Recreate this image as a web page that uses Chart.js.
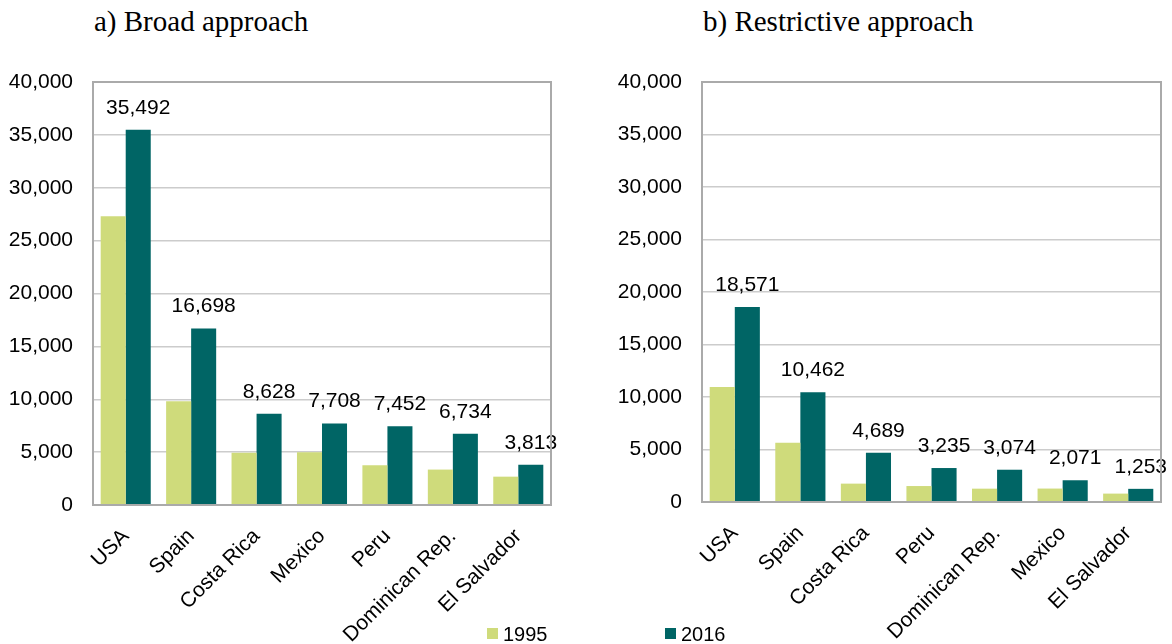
<!DOCTYPE html>
<html>
<head>
<meta charset="utf-8">
<script src="https://cdn.jsdelivr.net/npm/chart.js@4.4.1/dist/chart.umd.min.js"></script>
<style>
  body { margin:0; background:#fff; width:1172px; height:644px; position:relative; overflow:hidden;
         font-family:"Liberation Sans", Arial, sans-serif; }
  .title { position:absolute; top:7px; font-family:"Liberation Serif","Times New Roman",serif;
           font-size:29px; line-height:29px; color:#000; white-space:nowrap; }
  .box { position:absolute; top:0; width:586px; height:644px; }
  .key { position:absolute; top:624px; font-size:20px; line-height:20px; color:#000; }
  .sw { position:absolute; top:628px; width:11px; height:11px; }
</style>
</head>
<body>
<div class="title" style="left:94px">a) Broad approach</div>
<div class="title" style="left:703px">b) Restrictive approach</div>
<div class="box" style="left:0"><canvas id="broad" width="586" height="644"></canvas></div>
<div class="box" style="left:586px"><canvas id="restrictive" width="586" height="644"></canvas></div>
<div class="sw" style="left:487px;background:#cfdb7b"></div><div class="key" style="left:503px">1995</div>
<div class="sw" style="left:665px;background:#006565"></div><div class="key" style="left:681px">2016</div>

<script>
// panel a) broad approach
const broadCountries = ["USA", "Spain", "Costa Rica", "Mexico", "Peru", "Dominican Rep.", "El Salvador"];
const broad1995 = [27300, 9800, 4950, 5000, 3750, 3350, 2680];
const broad2016 = [35492, 16698, 8628, 7708, 7452, 6734, 3813];

// panel b) restrictive approach
const restrictCountries = ["USA", "Spain", "Costa Rica", "Peru", "Dominican Rep.", "Mexico", "El Salvador"];
const restrict1995 = [10950, 5650, 1750, 1520, 1270, 1280, 800];
const restrict2016 = [18571, 10462, 4689, 3235, 3074, 2071, 1253];

const yMax = 40000;
const yStep = 5000;

const col1995 = "#cfdb7b";
const col2016 = "#006565";
const fmt = v => Number(v).toLocaleString("en-US");

// grey frame round the plot area
const frame = {
  id: "frame",
  afterDraw(chart) {
    const a = chart.chartArea, c = chart.ctx;
    c.save();
    c.strokeStyle = "#aaaaaa";
    c.lineWidth = 2;
    c.strokeRect(a.left, a.top, a.right - a.left, a.bottom - a.top);
    c.restore();
  }
};

// numbers over the 2016 bars
const valueLabels = {
  id: "valueLabels",
  afterDatasetsDraw(chart) {
    const c = chart.ctx;
    const meta = chart.getDatasetMeta(1);
    c.save();
    c.font = "21px 'Liberation Sans', Arial, sans-serif";
    c.fillStyle = "#000";
    c.textAlign = "center";
    c.textBaseline = "alphabetic";
    meta.data.forEach((bar, i) => {
      c.fillText(fmt(chart.data.datasets[1].data[i]), bar.x, bar.y - 16);
    });
    c.restore();
  }
};

function makeChart(id, labels, d95, d16, axisW, padRight, xH) {
  return new Chart(document.getElementById(id), {
    type: "bar",
    data: {
      labels: labels,
      datasets: [
        { label: "1995", data: d95, backgroundColor: col1995 },
        { label: "2016", data: d16, backgroundColor: col2016 }
      ]
    },
    options: {
      responsive: false,
      animation: false,
      layout: { padding: { top: 82, right: padRight, left: 0, bottom: 0 } },
      plugins: { legend: { display: false }, tooltip: { enabled: false } },
      datasets: { bar: { categoryPercentage: 0.765, barPercentage: 1.0 } },
      scales: {
        x: {
          grid: { display: false, drawTicks: false },
          border: { display: true, color: "#aaaaaa", width: 2 },
          ticks: {
            color: "#000", autoSkip: false, minRotation: 45, maxRotation: 45, padding: 19,
            font: { family: "'Liberation Sans', Arial, sans-serif", size: 21 }
          },
          afterFit(s) { s.height = xH; }
        },
        y: {
          min: 0, max: yMax,
          grid: { color: "#cccccc", lineWidth: 1.5, drawTicks: false },
          border: { display: true, color: "#aaaaaa", width: 2 },
          ticks: {
            stepSize: yStep, color: "#000", padding: 20,
            font: { family: "'Liberation Sans', Arial, sans-serif", size: 21 },
            callback: v => fmt(v)
          },
          afterFit(s) { s.width = axisW; }
        }
      }
    },
    plugins: [frame, valueLabels]
  });
}

makeChart("broad", broadCountries, broad1995, broad2016, 93, 35, 139);
makeChart("restrictive", restrictCountries, restrict1995, restrict2016, 116, 11, 142);
</script>
</body>
</html>
